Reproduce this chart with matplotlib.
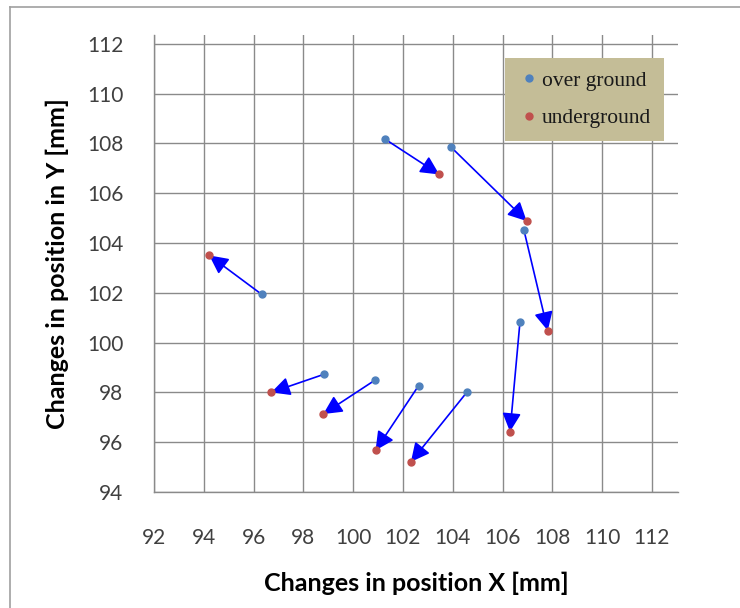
import matplotlib
matplotlib.use("Agg")
import matplotlib.pyplot as plt
from matplotlib.lines import Line2D

# positions, one pair per arrow (start -> end)
over_x = [101.28, 103.92, 106.86, 96.32, 106.70, 98.84, 100.86, 102.63, 104.58]
over_y = [108.17, 107.86, 104.52, 101.94, 100.81, 98.73, 98.48, 98.27, 98.02]
under_x = [103.46, 106.97, 107.82, 94.22, 106.30, 96.71, 98.80, 100.90, 102.32]
under_y = [106.75, 104.88, 100.48, 103.50, 96.42, 98.00, 97.13, 95.67, 95.21]

x_ticks = list(range(92, 113, 2))
y_ticks = list(range(94, 113, 2))

BLUE = "#4F81BD"
RED = "#C0504D"
GRID = "#8A8A8A"

fig = plt.figure(figsize=(7.40, 6.08), dpi=100)
ax = fig.add_axes([154 / 740, 116 / 608, 524 / 740, 457 / 608])

ax.set_xlim(92, 113.05)
ax.set_ylim(94, 112.35)
ax.set_xticks(x_ticks)
ax.set_yticks(y_ticks)
ax.grid(True, color=GRID, lw=1.0)
ax.set_axisbelow(True)
for s in ["top", "right"]:
    ax.spines[s].set_visible(False)
for s in ["left", "bottom"]:
    ax.spines[s].set_color(GRID)
    ax.spines[s].set_linewidth(1.0)
ax.tick_params(length=0, labelsize=15, labelcolor="#404040")
ax.tick_params(axis="x", pad=26)
ax.tick_params(axis="y", pad=22)
for lab in ax.get_xticklabels() + ax.get_yticklabels():
    lab.set_family("Lato")

for x0, y0, x1, y1 in zip(over_x, over_y, under_x, under_y):
    ax.annotate("", xy=(x1, y1), xytext=(x0, y0),
                arrowprops=dict(arrowstyle="-|>,head_length=0.6,head_width=0.3",
                                color="blue", lw=1.2, mutation_scale=19,
                                shrinkA=0, shrinkB=0),
                zorder=2)

ax.plot(over_x, over_y, "o", color=BLUE, ms=5, zorder=3, clip_on=False)
ax.plot(under_x, under_y, "o", color=RED, ms=5, zorder=3, clip_on=False)

ax.set_xlabel("Changes in position X [mm]", fontsize=18, fontweight="bold",
              family="Lato", labelpad=17)
ax.set_ylabel("Changes in position in Y [mm]", fontsize=18, fontweight="bold",
              family="Lato", labelpad=13)

handles = [Line2D([], [], ls="", marker="o", color=BLUE, ms=5),
           Line2D([], [], ls="", marker="o", color=RED, ms=5)]
leg = ax.legend(handles, ["over ground", "underground"], loc="upper left",
                bbox_to_anchor=((505 - 154) / 524, (492 - 58) / 457),
                frameon=True, fancybox=False, facecolor="#C4BD97",
                edgecolor="#C4BD97", framealpha=1,
                prop={"family": "Liberation Serif", "size": 15.5},
                handletextpad=0.1, handlelength=1.0, labelspacing=0.8,
                borderpad=0.6, borderaxespad=0)
leg.get_frame().set_linewidth(0)
for t in leg.get_texts():
    t.set_color("#1A1A1A")

# outer chart border
fig.add_artist(Line2D([9.5 / 740, 9.5 / 740], [0, 1 - 7 / 608],
                      color="#A0A0A0", lw=1.2, transform=fig.transFigure))
fig.add_artist(Line2D([9.5 / 740, 1], [1 - 7 / 608, 1 - 7 / 608],
                      color="#A0A0A0", lw=1.2, transform=fig.transFigure))

fig.savefig("out.png", dpi=100)
